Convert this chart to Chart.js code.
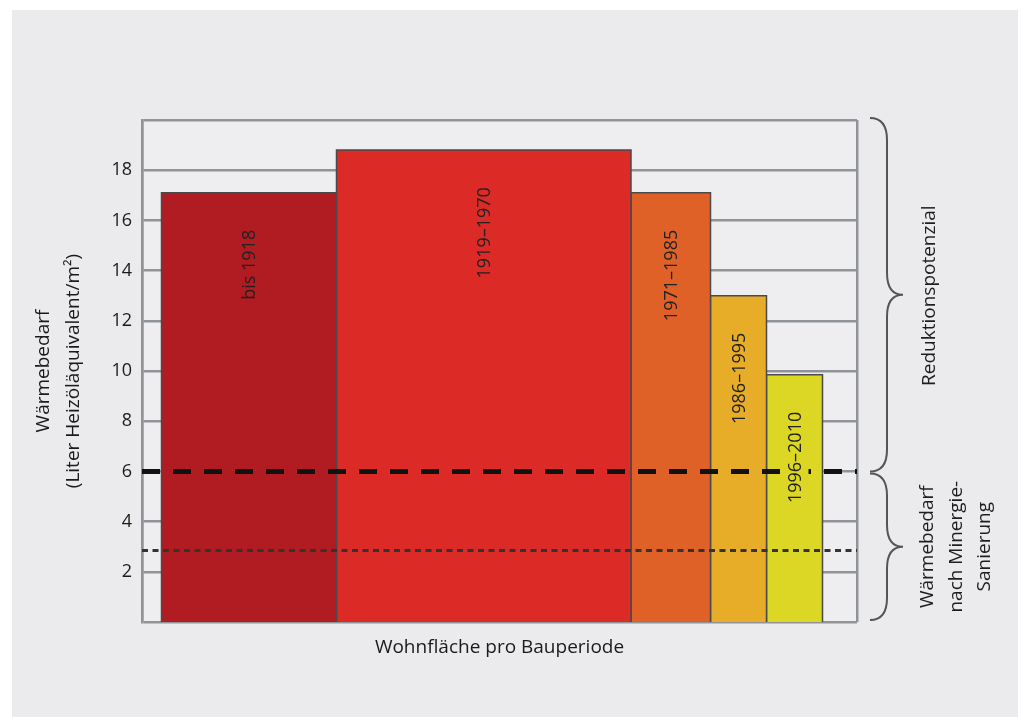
<!DOCTYPE html>
<html>
<head>
<meta charset="utf-8">
<script src="https://cdn.jsdelivr.net/npm/chart.js@4.4.1/dist/chart.umd.min.js"></script>
<style>
  html, body { margin: 0; padding: 0; background: #fff; }
  canvas { display: block; }
</style>
</head>
<body>
<canvas id="chart" width="1023" height="717"></canvas>
<script>
// data
const periods = ['bis 1918', '1919–1970', '1971–1985', '1986–1995', '1996–2010'];
const heatDemand = [17.1, 18.8, 17.1, 13.0, 9.85];   // Liter Heizöläquivalent/m²
const livingArea = [35, 58.9, 15.9, 11.2, 11.2];      // relative bar widths
const areaStart = 3.9;
const areaMax = 143;
const barColors = ['#b01c22', '#dc2a27', '#e06128', '#e8ad28', '#dcd624'];
const yTickLabels = [2, 4, 6, 8, 10, 12, 14, 16, 18];
const minergieLimit = 6;       // dashed line
const minergieAfter = 2.85;    // dotted line
const braceUpperText = ['Reduktionspotenzial'];
const braceLowerText = ['Wärmebedarf', 'nach Minergie-', 'Sanierung'];

const FONT = "'Open Sans', sans-serif";
const GRID = '#909398';

// build one filled outline per bar, placed side by side
const barSets = [];
let x0 = areaStart;
periods.forEach((p, i) => {
    const x1 = x0 + livingArea[i];
    barSets.push({
        label: p,
        data: [{x: x0, y: 0}, {x: x0, y: heatDemand[i]}, {x: x1, y: heatDemand[i]}, {x: x1, y: 0}],
        backgroundColor: barColors[i],
        borderColor: '#4a4a4a',
        borderWidth: 1.5,
        fill: 'origin',
        pointRadius: 0,
        tension: 0,
        order: 2
    });
    x0 = x1;
});

const refLines = [
    {
        label: 'Minergie',
        data: [{x: 0, y: minergieLimit}, {x: areaMax, y: minergieLimit}],
        borderColor: '#111',
        borderWidth: 5,
        borderDash: [18, 13],
        pointRadius: 0,
        fill: false,
        order: 0
    },
    {
        label: 'nach Sanierung',
        data: [{x: 0, y: minergieAfter}, {x: areaMax, y: minergieAfter}],
        borderColor: '#333',
        borderWidth: 3,
        borderDash: [6, 4.5],
        pointRadius: 0,
        fill: false,
        order: 1
    }
];

function drawBrace(ctx, xs, xc, xt, yTop, yBot, r) {
    const yMid = (yTop + yBot) / 2;
    ctx.beginPath();
    ctx.moveTo(xs, yTop);
    ctx.quadraticCurveTo(xc, yTop, xc, yTop + r);
    ctx.lineTo(xc, yMid - r);
    ctx.quadraticCurveTo(xc, yMid, xt, yMid);
    ctx.quadraticCurveTo(xc, yMid, xc, yMid + r);
    ctx.lineTo(xc, yBot - r);
    ctx.quadraticCurveTo(xc, yBot, xs, yBot);
    ctx.stroke();
}

function rotatedLines(ctx, lines, xFirst, yc, lh) {
    lines.forEach((t, k) => {
        ctx.save();
        ctx.translate(xFirst + k * lh, yc);
        ctx.rotate(-Math.PI / 2);
        ctx.textAlign = 'center';
        ctx.textBaseline = 'middle';
        ctx.fillText(t, 0, 0);
        ctx.restore();
    });
}

const decorations = {
    id: 'decorations',
    beforeDraw(chart) {
        const {ctx, chartArea: a} = chart;
        ctx.save();
        ctx.fillStyle = '#fff';
        ctx.fillRect(0, 0, chart.width, chart.height);
        ctx.fillStyle = '#ebebed';
        ctx.fillRect(12, 10, 1006, 707);
        ctx.fillStyle = '#eeeef0';
        ctx.fillRect(a.left, a.top, a.right - a.left, a.bottom - a.top);
        ctx.restore();
    },
    afterDatasetsDraw(chart) {
        const {ctx, chartArea: a, scales} = chart;
        const xs = scales.x, ys = scales.y;
        ctx.save();
        // period labels inside the bars
        ctx.font = '18px ' + FONT;
        let start = areaStart;
        periods.forEach((p, i) => {
            const end = start + livingArea[i];
            const cx = (xs.getPixelForValue(start) + xs.getPixelForValue(end)) / 2;
            const top = ys.getPixelForValue(heatDemand[i]) + 37;
            const w = ctx.measureText(p).width;
            ctx.fillStyle = barColors[i];
            ctx.fillRect(cx - 14, top - 2, 28, w + 4);
            ctx.save();
            ctx.translate(cx, top);
            ctx.rotate(-Math.PI / 2);
            ctx.fillStyle = '#222';
            ctx.textAlign = 'right';
            ctx.textBaseline = 'middle';
            ctx.fillText(p, 0, 1);
            ctx.restore();
            start = end;
        });

        // braces on the right
        ctx.strokeStyle = '#555';
        ctx.lineWidth = 2;
        const yTop = ys.getPixelForValue(ys.max);
        const ySplit = ys.getPixelForValue(minergieLimit);
        const yZero = ys.getPixelForValue(0);
        drawBrace(ctx, a.right + 13, a.right + 30, a.right + 46, yTop - 2, ySplit, 22);
        drawBrace(ctx, a.right + 13, a.right + 30, a.right + 46, ySplit + 2, yZero - 2, 22);

        ctx.fillStyle = '#1e1e1e';
        ctx.font = '19px ' + FONT;
        rotatedLines(ctx, braceUpperText, a.right + 73, (yTop + ySplit) / 2, 28.5);
        rotatedLines(ctx, braceLowerText, a.right + 71, (ySplit + yZero) / 2, 28.5);
        ctx.restore();
    }
};

Chart.defaults.font.family = FONT;
Chart.defaults.color = '#1a1a1a';

new Chart(document.getElementById('chart'), {
    type: 'line',
    data: { datasets: refLines.concat(barSets) },
    options: {
        responsive: false,
        animation: false,
        layout: { padding: { top: 120, right: 166, bottom: 58, left: 12 } },
        plugins: { legend: { display: false }, tooltip: { enabled: false } },
        scales: {
            x: {
                type: 'linear',
                min: 0,
                max: areaMax,
                afterBuildTicks(axis) { axis.ticks = [{value: 0}, {value: areaMax}]; },
                afterFit(axis) { axis.height = 37; },
                ticks: { display: false },
                grid: { color: GRID, lineWidth: 2.5, drawTicks: false },
                border: { display: false },
                title: {
                    display: true,
                    text: 'Wohnfläche pro Bauperiode',
                    font: { size: 19 },
                    padding: 0
                }
            },
            y: {
                min: 0,
                max: 20,
                afterFit(axis) { axis.width = 130; },
                ticks: {
                    stepSize: 2,
                    padding: 10,
                    font: { size: 18 },
                    callback: v => yTickLabels.includes(v) ? v : ''
                },
                grid: { color: GRID, lineWidth: 2.5, drawTicks: false },
                border: { color: GRID, width: 2.5 },
                title: {
                    display: true,
                    text: ['Wärmebedarf', '(Liter Heizöläquivalent/m²)'],
                    font: { size: 19, lineHeight: 1.55 },
                    padding: { top: 17, bottom: 0 }
                }
            }
        }
    },
    plugins: [decorations]
});
</script>
</body>
</html>
